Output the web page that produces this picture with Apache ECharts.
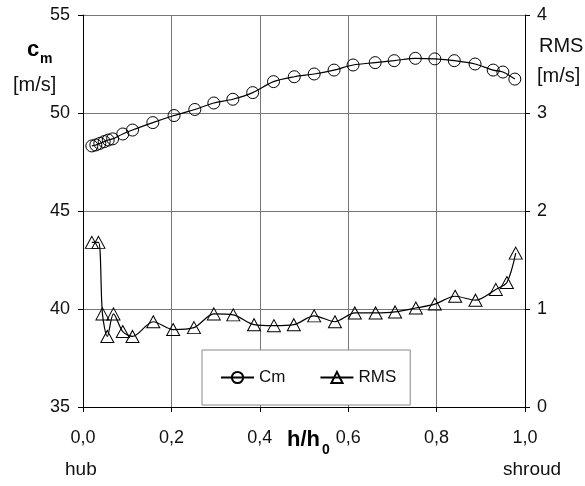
<!DOCTYPE html>
<html><head><meta charset="utf-8">
<script src="https://cdn.jsdelivr.net/npm/echarts@6/dist/echarts.min.js"></script>
<style>html,body{margin:0;padding:0;background:#fff}#c{width:585px;height:486px}</style>
</head><body><div id="c"></div>
<script>
const cmX = [0.020,0.029,0.038,0.048,0.057,0.067,0.090,0.112,0.158,0.206,0.253,0.296,0.339,0.384,0.431,0.478,0.523,0.568,0.611,0.661,0.704,0.752,0.796,0.840,0.887,0.928,0.950,0.977];
const cmY = [48.32,48.37,48.45,48.54,48.62,48.68,48.93,49.13,49.51,49.87,50.18,50.51,50.70,51.04,51.60,51.85,51.99,52.19,52.45,52.57,52.67,52.79,52.76,52.67,52.50,52.19,52.09,51.73];
const rmsX = [0.020,0.035,0.044,0.055,0.069,0.090,0.112,0.159,0.204,0.251,0.296,0.340,0.387,0.432,0.477,0.523,0.570,0.615,0.662,0.706,0.753,0.796,0.842,0.888,0.934,0.959,0.979];
const rmsY = [1.68,1.68,0.95,0.72,0.95,0.77,0.72,0.87,0.79,0.81,0.95,0.94,0.84,0.83,0.84,0.93,0.87,0.96,0.96,0.97,1.01,1.05,1.13,1.09,1.20,1.27,1.57];
const leftTicks = [35,40,45,50,55];
const rightTicks = [0,1,2,3,4];

const F = 'Liberation Sans, Arial, sans-serif';
const chart = echarts.init(document.getElementById('c'));
const axisCommon = {
  axisLine:{show:true,lineStyle:{color:'#000',width:1}},
  axisTick:{show:true,inside:false,length:5,lineStyle:{color:'#000'}},
  axisLabel:{color:'#111',fontSize:18,fontFamily:F}
};
chart.setOption({
  animation:false,
  grid:{left:83,right:60,top:15,bottom:79,containLabel:false},
  xAxis:{type:'value',min:0,max:1,interval:0.2,
    ...axisCommon,
    axisLabel:{...axisCommon.axisLabel,margin:22,formatter:v=>v.toFixed(1).replace('.',',')},
    splitLine:{show:true,lineStyle:{color:'#777',width:1}}},
  yAxis:[
    {type:'value',min:leftTicks[0],max:leftTicks[leftTicks.length-1],interval:5,position:'left',
      ...axisCommon,axisLabel:{...axisCommon.axisLabel,margin:13},
      splitLine:{show:true,lineStyle:{color:'#777',width:1}}},
    {type:'value',min:rightTicks[0],max:rightTicks[rightTicks.length-1],interval:1,position:'right',
      ...axisCommon,axisLabel:{...axisCommon.axisLabel,margin:12},
      splitLine:{show:false}}
  ],
  legend:{left:202,top:350,orient:'horizontal',
    backgroundColor:'#fff',borderColor:'#888',borderWidth:1,
    padding:[19,14,19,18],itemGap:34,itemWidth:33,itemHeight:14,
    textStyle:{color:'#111',fontSize:17,fontFamily:F},
    data:['Cm','RMS']},
  series:[
    {name:'Cm',type:'line',yAxisIndex:0,smooth:0.3,
      data:cmX.map((x,i)=>[x,cmY[i]]),
      symbol:'circle',symbolSize:12,showAllSymbol:true,
      lineStyle:{color:'#000',width:1.2},
      itemStyle:{color:'rgba(255,255,255,0)',borderColor:'#000',borderWidth:1}},
    {name:'RMS',type:'line',yAxisIndex:1,smooth:0.3,
      data:rmsX.map((x,i)=>[x,rmsY[i]]),
      symbol:'triangle',symbolSize:[13,12],showAllSymbol:true,
      lineStyle:{color:'#000',width:1.2},
      itemStyle:{color:'rgba(255,255,255,0)',borderColor:'#000',borderWidth:1}}
  ],
  graphic:[
    {type:'text',left:27,top:39,style:{text:'c',font:'bold 22px '+F,fill:'#000'}},
    {type:'text',left:40,top:52,style:{text:'m',font:'bold 14px '+F,fill:'#000'}},
    {type:'text',left:13,top:75,style:{text:'[m/s]',font:'20px '+F,fill:'#111'}},
    {type:'text',left:539,top:36,style:{text:'RMS',font:'20px '+F,fill:'#111'}},
    {type:'text',left:537,top:66,style:{text:'[m/s]',font:'20px '+F,fill:'#111'}},
    {type:'text',left:287,top:429,style:{text:'h/h',font:'bold 22px '+F,fill:'#000'}},
    {type:'text',left:322,top:443,style:{text:'0',font:'bold 14px '+F,fill:'#000'}},
    {type:'text',left:65,top:460,style:{text:'hub',font:'19px '+F,fill:'#111'}},
    {type:'text',left:503,top:460,style:{text:'shroud',font:'19px '+F,fill:'#111'}}
  ]
});
</script></body></html>
